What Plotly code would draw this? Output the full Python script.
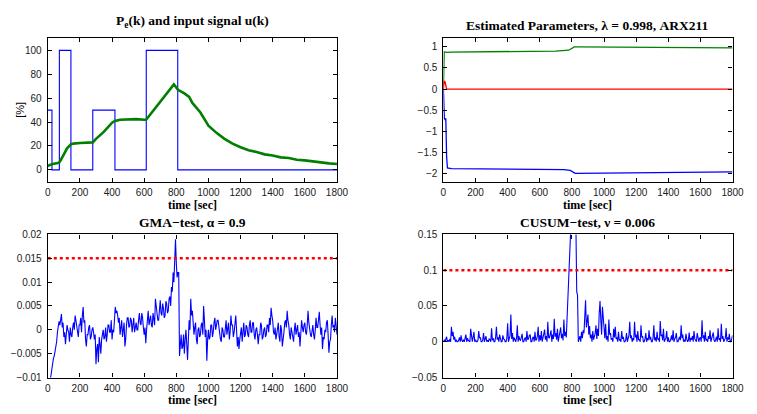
import plotly.graph_objects as go

# ---------------- data ----------------
# Top-left: input signal u(k) (step) and Pe(k)
u_time = [0, 26, 72, 144, 280, 418, 613, 809, 1800]
u_vals = [50, 0, 100, 0, 50, 0, 100, 0, 0]

pe_time = [0, 10, 30, 50, 70, 80, 100, 120, 145, 160, 200, 250, 280, 300, 350, 400, 418,
           450, 500, 550, 600, 612, 650, 700, 750, 785, 800, 810, 850, 880, 900, 950, 1000,
           1050, 1100, 1150, 1200, 1250, 1300, 1350, 1400, 1450, 1500, 1550, 1600, 1650,
           1700, 1750, 1800]
pe_vals = [3, 4, 5, 5.5, 6, 8, 13.5, 18, 21.5, 22, 22.5, 22.5, 23, 26, 32, 39.5, 41,
           42, 42.5, 42.5, 42, 42, 48.5, 57, 65.5, 71.5, 69, 67, 64, 61, 56, 48, 37,
           31, 26, 22, 19, 16.5, 15, 13, 12, 10.5, 10, 8.5, 8, 7,
           6.5, 5.5, 5]

# Top-right: estimated parameters
par_g_time = [0, 2, 5, 10, 20, 50, 200, 400, 600, 700, 780, 800, 815, 830, 1000, 1400, 1800]
par_g_vals = [0, 0.6, 0.88, 0.88, 0.87, 0.875, 0.88, 0.885, 0.89, 0.9, 0.92, 0.96, 1.0, 1.0,
              0.995, 0.985, 0.975]
par_r_time = [0, 3, 6, 10, 14, 20, 1800]
par_r_vals = [0, 0.2, 0.12, 0.18, 0.05, 0, 0]
par_b_time = [0, 3, 6, 10, 15, 20, 25, 50, 200, 400, 600, 750, 790, 810, 820, 1000, 1400, 1800]
par_b_vals = [0, -0.45, -0.7, -0.72, -0.7, -1.6, -1.87, -1.885, -1.89, -1.89, -1.9, -1.91,
              -1.93, -1.99, -2.0, -1.995, -1.985, -1.965]

# Bottom-left: GMA test statistic (units of 1e-3), one value every 5 s, 0..1800 (20 per row = 100 s)
gma_milli = [
    -10.5, -10.5, -10.5, -10.4, -9.5, -8, -6.5, -6, -5.5, -4.5, -3.5, -2.5, -0.5, 1.5, 1.8, 1, 2.5, 3.3, 0.5, 1.5,
    -1.5, -0.5, -3, -1, 1, 0, -0.5, -2.5, 0.5, -1, -1.5, 0.5, 1.5, 0, 3, 2, 0.8, -0.5, -1.5, 1,
    1, 2.5, -0.5, 3, 4.8, 1.5, 2, -2, -3.5, -1, -1, 0.5, 1, -2, -1.5, 0, 0.5, -0.5, -2, -1,
    -7.2, -4, -3, -6.8, -1.5, -3, -5, -2, -1, 0, -2, -1.5, 0.5, -2.5, -1, 1, 1, -0.5, -0.5, 2,
    -2, 0, -0.5, 2, 4.8, 3.5, 4, 3, 1.5, 2.5, -1, 0.5, 2, -1.5, 0.5, 1.5, -3.5, -2, 1, 2.5,
    2.5, 0.5, 0.8, 2.5, 2, -0.5, 1, 2.5, -0.5, 1, 1.5, 0, 0, 2, 3.5, 1.5, 1, 3.5, 2.5, 0.5,
    -1, 0.5, -2.8, 0, 2.5, 4, 1, 2.5, 3, 1, 0.5, 3.5, 2.5, 1, 6.5, 5, 4, 2, 2, 4.5,
    6.2, 3.5, 3, 5.5, 4.5, 2.5, 3, 6, 5.5, 3.5, 4, 6.5, 7, 5, 9, 8, 12, 10, 14.5, 19,
    14, 11, 12, 12, -5.5, -3, -1, -4, -3.5, -1, -5, -2, 0, -3, -6.3, -2, 2, 0, 6.5, 3,
    4, 1.5, -1, 0.5, 1.5, -2, -3, 0, 0.5, -1.5, -1, 1, 1.5, -1, 5, 2, -1.5, 0, -6.5, -2,
    0, -2, -1.5, 1, 1, -1.5, -0.5, 1.5, 2.5, 0, 1, 2, 2, 0.5, -1, -2, -2.5, 0.5, 0, -1.5,
    -1.5, 0.5, 2, -1, 0, 1.5, -2, -0.5, 3, 1, 1, -1.5, -0.5, 1.5, 3, 0, -3.5, -1.5, -4, -2,
    -1, 0.5, -2.5, 0, 1.5, -1.5, -1, 1, 0.5, -1, -1.5, 1, 2, -0.5, -0.5, 1.5, 1.5, -1, -2, 0,
    0.5, -1, -3, -1, -1, 1.5, 1, -2, -1.5, 0, 0.5, -1.5, -1, 1, 1, -0.5, 2.5, 1, 4.6, 3,
    2, -0.5, -1, 0.5, -2, -1, 0, 1.5, -1.5, -2.5, 1, 0, -3.5, -1, -0.5, 1.5, 2, 0.5, 4, 2,
    1, -1, -2, 0.5, -0.5, -2, -2.5, 0, 1.5, -1, 0, 1, -1.5, -0.5, -3.5, -1, 2, 0.5, -0.5, 1,
    1.5, -0.5, -1, 1, 4, 1.5, 0, -1, -1.5, 0.5, 1, -1, -2, 0, 2.5, 0.5, 0.5, 2, 3.8, 1,
    -1, 0.5, -4, -1.5, -2, 0, -0.5, 1.5, 2, -1, -4.8, -2.5, -2, 1, 3, 0.5, 1, -0.5, 2.5, 1,
    -1,
]
gma_threshold = 0.015

# Bottom-right: CUSUM test statistic (units of 1e-3), one value every 5 s, 0..1800
cusum_milli = [
    0, 3, 0, 5, 7, 0, 2, 0, 4, 0, 21, 8, 14, 3, 7, 0, 3, 0, 0, 2,
    6, 0, 9, 2, 0, 3, 0, 5, 10, 0, 5, 2, 0, 0, 18, 4, 0, 6, 14, 0,
    3, 0, 0, 2, 15, 5, 6, 0, 0, 3, 12, 0, 4, 8, 0, 2, 0, 4, 3, 0,
    19, 2, 5, 0, 0, 6, 21, 3, 6, 0, 10, 2, 0, 0, 9, 4, 3, 0, 0, 5,
    26, 0, 5, 9, 38, 4, 12, 0, 6, 2, 0, 5, 23, 0, 8, 3, 2, 6, 11, 0,
    0, 4, 6, 0, 15, 3, 4, 9, 10, 0, 0, 5, 7, 0, 14, 2, 3, 8, 21, 0,
    9, 2, 15, 0, 4, 11, 17, 3, 8, 0, 28, 6, 5, 12, 16, 0, 10, 4, 32, 7,
    12, 3, 18, 0, 6, 14, 20, 5, 11, 2, 31, 8, 14, 6, 35, 64, 85, 120, 165, 170,
    170, 170, 170, 170, 165, 160, 70, 65, 0, 3, 8, 0, 14, 5, 16, 12, 30, 58, 20, 35,
    38, 10, 22, 5, 10, 0, 15, 3, 6, 12, 23, 4, 18, 8, 40, 57, 30, 10, 49, 25,
    20, 5, 25, 3, 8, 0, 31, 10, 12, 3, 5, 0, 18, 6, 21, 4, 6, 0, 14, 2,
    3, 0, 15, 4, 7, 0, 0, 3, 12, 0, 4, 9, 28, 5, 9, 0, 5, 2, 28, 6,
    10, 0, 15, 3, 3, 0, 23, 6, 8, 0, 0, 4, 12, 0, 5, 2, 16, 3, 7, 0,
    0, 5, 23, 2, 6, 0, 14, 3, 4, 0, 29, 8, 10, 2, 18, 0, 3, 5, 15, 0,
    6, 0, 0, 3, 9, 2, 16, 0, 4, 6, 12, 0, 0, 3, 7, 2, 23, 5, 10, 0,
    3, 0, 11, 4, 0, 2, 13, 0, 5, 3, 8, 0, 15, 4, 2, 0, 12, 3, 0, 5,
    6, 0, 30, 5, 9, 0, 14, 2, 3, 0, 8, 4, 16, 0, 4, 6, 13, 2, 0, 3,
    7, 0, 19, 3, 5, 0, 25, 4, 8, 0, 2, 5, 19, 0, 6, 3, 11, 0, 0, 4,
    9,
]
cusum_threshold = 0.1

t_end = 1800
step = 5
gma_time = [step * i for i in range(len(gma_milli))]
cusum_time = [step * i for i in range(len(cusum_milli))]
gma_vals = [v * 1e-3 for v in gma_milli]
cusum_vals = [v * 1e-3 for v in cusum_milli]

# ---------------- figure ----------------
W, H = 757, 414
BLUE = "#0000ff"
GREEN = "#007f00"
RED = "#ff0000"

fig = go.Figure()

# top-left
fig.add_trace(go.Scatter(x=u_time, y=u_vals, mode="lines", line=dict(color=BLUE, width=1.1, shape="hv"),
                         xaxis="x", yaxis="y"))
fig.add_trace(go.Scatter(x=pe_time, y=pe_vals, mode="lines", line=dict(color=GREEN, width=2.6),
                         xaxis="x", yaxis="y"))
# top-right
fig.add_trace(go.Scatter(x=par_g_time, y=par_g_vals, mode="lines", line=dict(color=GREEN, width=1.3),
                         xaxis="x2", yaxis="y2"))
fig.add_trace(go.Scatter(x=par_r_time, y=par_r_vals, mode="lines", line=dict(color=RED, width=1.3),
                         xaxis="x2", yaxis="y2"))
fig.add_trace(go.Scatter(x=par_b_time, y=par_b_vals, mode="lines", line=dict(color=BLUE, width=1.3),
                         xaxis="x2", yaxis="y2"))
# bottom-left
fig.add_trace(go.Scatter(x=gma_time, y=gma_vals, mode="lines", line=dict(color=BLUE, width=1.1),
                         xaxis="x3", yaxis="y3"))
fig.add_trace(go.Scatter(x=[0, t_end], y=[gma_threshold, gma_threshold], mode="lines",
                         line=dict(color=RED, width=2.5, dash="dot"), xaxis="x3", yaxis="y3"))
# bottom-right
fig.add_trace(go.Scatter(x=cusum_time, y=cusum_vals, mode="lines", line=dict(color=BLUE, width=1.1),
                         xaxis="x4", yaxis="y4"))
fig.add_trace(go.Scatter(x=[0, t_end], y=[cusum_threshold, cusum_threshold], mode="lines",
                         line=dict(color=RED, width=2.5, dash="dot"), xaxis="x4", yaxis="y4"))

# domains (pixel -> paper)
def xd(a, b):
    return [a / W, b / W]

def yd(top, bot):
    return [1 - bot / H, 1 - top / H]

XL = xd(45.7, 340.7)
XR = xd(449.3, 744.3)
YT = yd(34.3, 181.7)
YB = yd(235.7, 382.7)

tickfont = dict(family="Liberation Sans, Arial, sans-serif", size=10, color="#1a1a1a")

def xax(dom, anchor):
    return dict(domain=dom, anchor=anchor, range=[0, 1800], tick0=0, dtick=200,
                showline=True, linecolor="black", linewidth=1.2, mirror="allticks",
                ticks="inside", ticklen=4, tickcolor="black", tickwidth=1,
                ticklabelstandoff=1,
                showgrid=False, zeroline=False, tickfont=tickfont, fixedrange=True)

def yax(dom, anchor, rng, dtick):
    return dict(domain=dom, anchor=anchor, range=rng, tick0=0, dtick=dtick,
                showline=True, linecolor="black", linewidth=1.2, mirror="allticks",
                ticks="inside", ticklen=4, tickcolor="black", tickwidth=1,
                ticklabelstandoff=3,
                showgrid=False, zeroline=False, tickfont=tickfont, fixedrange=True)

fig.update_layout(
    width=W, height=H,
    margin=dict(l=0, r=0, t=0, b=0),
    paper_bgcolor="white", plot_bgcolor="white",
    showlegend=False,
    xaxis=xax(XL, "y"), yaxis=yax(YT, "x", [-10, 110], 20),
    xaxis2=xax(XR, "y2"), yaxis2=yax(YT, "x2", [-2.2, 1.2], 0.5),
    xaxis3=xax(XL, "y3"), yaxis3=yax(YB, "x3", [-0.01, 0.02], 0.005),
    xaxis4=xax(XR, "y4"), yaxis4=yax(YB, "x4", [-0.05, 0.15], 0.05),
)

serif = "Liberation Serif, Times New Roman, serif"

def ann(text, xpx, ypx, size=13, angle=0, family=serif):
    fig.add_annotation(text=text, x=xpx / W, y=1 - ypx / H, xref="paper", yref="paper",
                       showarrow=False, xanchor="center", yanchor="middle", textangle=angle,
                       font=dict(family=family, size=size, color="black"))

cxL = (45.7 + 340.7) / 2
cxR = (449.3 + 744.3) / 2
ann("<b>P<sub>e</sub>(k) and input signal u(k)</b>", cxL, 17, size=13.5)
ann("<b>Estimated Parameters, λ = 0.998, ARX211</b>", cxR, 21, size=13.5)
ann("<b>GMA−test, α = 0.9</b>", cxL, 223, size=13.5)
ann("<b>CUSUM−test, ν = 0.006</b>", cxR, 223, size=13.5)
ann("<b>time [sec]</b>", cxL, 205, size=12)
ann("<b>time [sec]</b>", cxR, 205, size=12)
ann("<b>time [sec]</b>", cxL, 406, size=12)
ann("<b>time [sec]</b>", cxR, 406, size=12)
ann("[%]", 17, 108, size=11, angle=-90, family="Liberation Sans, Arial, sans-serif")

fig.write_html("out.html")
